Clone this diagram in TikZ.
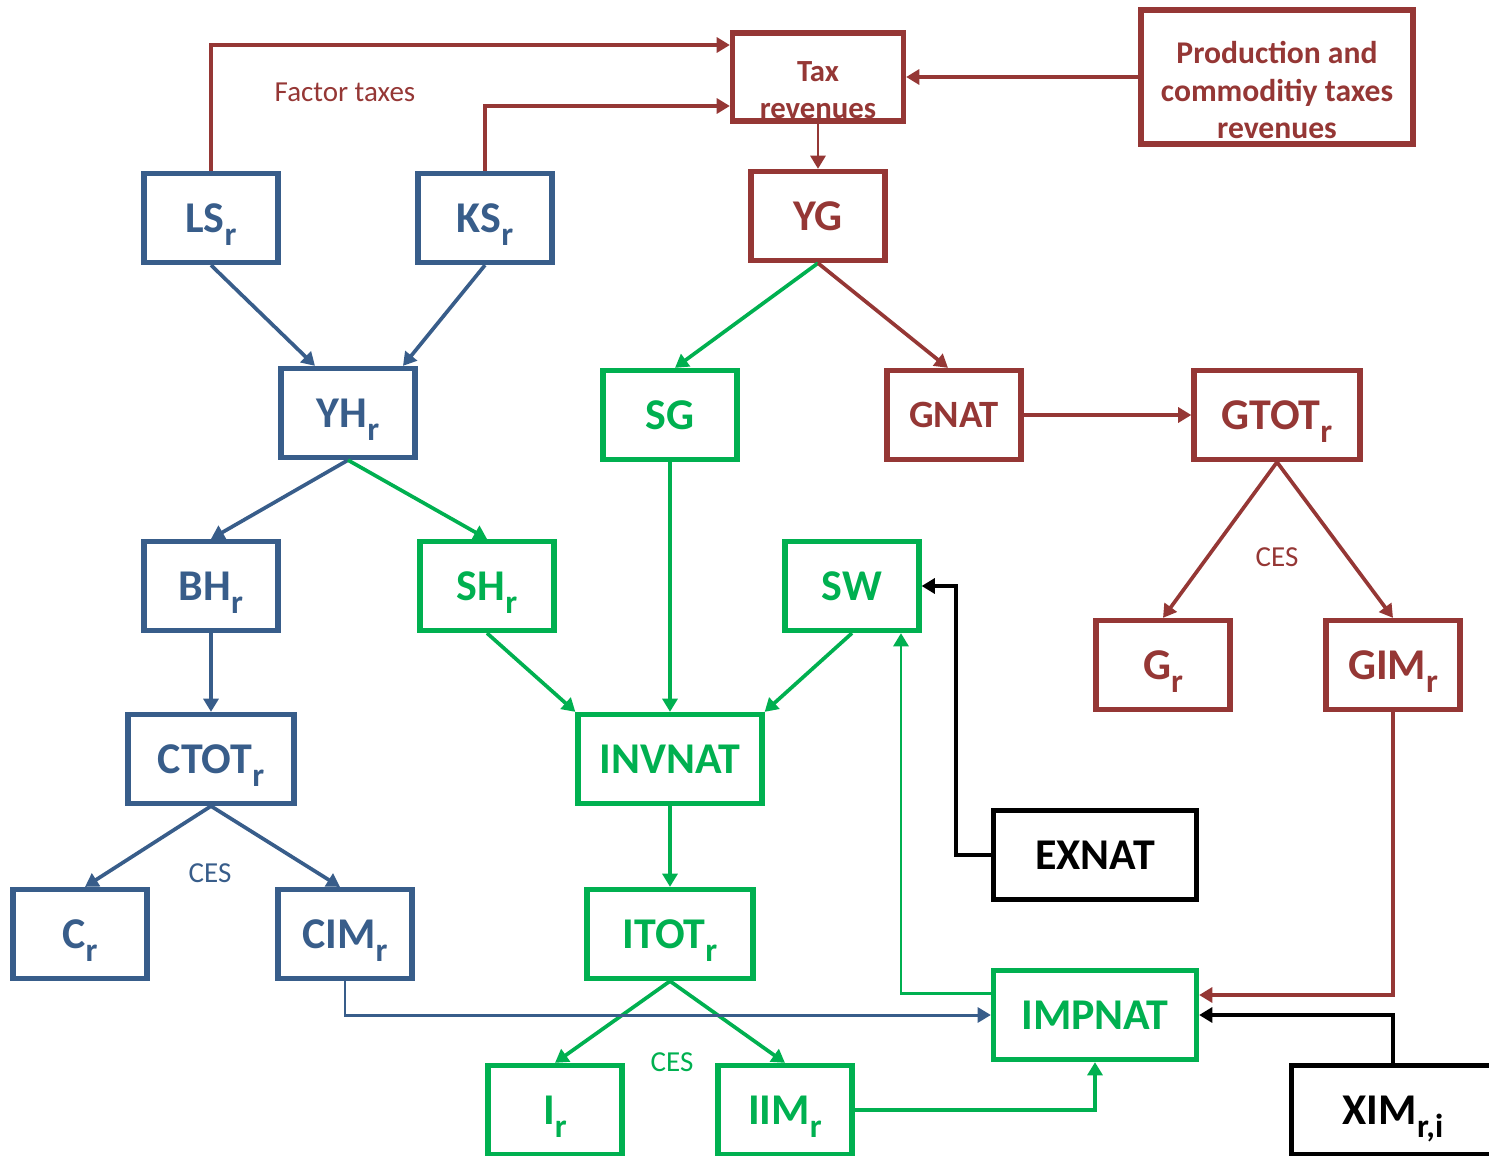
\documentclass[tikz,border=0pt]{standalone}
\usepackage{fontspec}
\setmainfont{Carlito}
\usetikzlibrary{arrows.meta}
\definecolor{taxred}{RGB}{149,55,53}
\definecolor{hhblue}{RGB}{56,93,138}
\definecolor{invgreen}{RGB}{0,176,80}
\newcommand{\rsub}[1]{\raisebox{-0.3em}[0pt][0pt]{\fontsize{19}{19}\selectfont #1}}
\tikzset{
  box/.style={draw, line width=3pt, minimum width=2.68cm, minimum height=1.78cm,
    inner sep=0pt, font=\fontsize{25}{30}\selectfont\bfseries},
  redbox/.style={box, draw=taxred, text=taxred},
  bluebox/.style={box, draw=hhblue, text=hhblue},
  greenbox/.style={box, draw=invgreen, text=invgreen},
  blackbox/.style={box, draw=black, text=black},
  link/.style={line width=2.1pt, -{Triangle[length=7.5pt,width=8.5pt]}},
  thin/.style={line width=1.7pt},
  redlink/.style={link, draw=taxred},
  bluelink/.style={link, draw=hhblue},
  greenlink/.style={link, draw=invgreen},
  blacklink/.style={link, draw=black},
  note/.style={font=\fontsize{16.5}{19}\selectfont}
}
\begin{document}
\begin{tikzpicture}[x=0.02cm, y=-0.02cm]
  \useasboundingbox (0,0) rectangle (1489,1156);

  \node[redbox, minimum width=3.42cm, minimum height=1.76cm] (tax) at (818,77) {};
  \node[text=taxred, align=center, font=\fontsize{17.5}{21}\selectfont\bfseries] (taxtext) at (818,90) {Tax\\revenues};
  \node[redbox, minimum width=5.44cm, minimum height=2.68cm] (prod) at (1277,77) {};
  \node[text=taxred, align=center, font=\fontsize{18}{21.5}\selectfont\bfseries] (prodtext) at (1277,90) {Production and\\commoditiy taxes\\revenues};

  \node[bluebox] (ls) at (211,218) {LS\rsub{r}};
  \node[bluebox] (ks) at (485,218) {KS\rsub{r}};
  \node[redbox] (yg) at (818,216) {YG};
  \node[bluebox] (yh) at (348,413) {YH\rsub{r}};
  \node[greenbox] (sg) at (670,415) {SG};
  \node[redbox, font=\fontsize{22}{26}\selectfont\bfseries] (gnat) at (954,415) {GNAT};
  \node[redbox, minimum width=3.32cm] (gtot) at (1277,415) {GTOT\rsub{r}};
  \node[bluebox] (bh) at (211,586) {BH\rsub{r}};
  \node[greenbox] (sh) at (487,586) {SH\rsub{r}};
  \node[greenbox] (sw) at (852,586) {SW};
  \node[redbox] (gr) at (1163,665) {G\rsub{r}};
  \node[redbox] (gim) at (1393,665) {GIM\rsub{r}};
  \node[bluebox, minimum width=3.32cm] (ctot) at (211,759) {CTOT\rsub{r}};
  \node[greenbox, minimum width=3.68cm] (invnat) at (670,759) {INVNAT};
  \node[blackbox, minimum width=4.06cm] (exnat) at (1095,855) {EXNAT};
  \node[bluebox] (cr) at (80,934) {C\rsub{r}};
  \node[bluebox] (cim) at (345,934) {CIM\rsub{r}};
  \node[greenbox, minimum width=3.32cm] (itot) at (670,934) {ITOT\rsub{r}};
  \node[greenbox, minimum width=4.06cm] (impnat) at (1095,1015) {IMPNAT};
  \node[greenbox] (ir) at (555,1110) {I\rsub{r}};
  \node[greenbox] (iim) at (785,1110) {IIM\rsub{r}};
  \node[blackbox, minimum width=4.06cm] (xim) at (1393,1110) {XIM\rsub{r,i}};

  \node[note, text=taxred] (factor) at (345,92) {Factor taxes};
  \node[note, text=taxred] (cesg) at (1277,557) {CES};
  \node[note, text=hhblue] (cesc) at (210,873) {CES};
  \node[note, text=invgreen] (cesi) at (672,1062) {CES};

  \draw[redlink] (ls.north) |- ([yshift=0.64cm]tax.west);
  \draw[redlink] (ks.north) |- ([yshift=-0.58cm]tax.west);
  \draw[redlink] (prod.west) -- (tax.east);
  \draw[redlink, thin] (tax.south) -- (yg.north);
  \draw[bluelink] (ls.south) -- ([xshift=-0.66cm]yh.north);
  \draw[bluelink] (ks.south) -- ([xshift=1.1cm]yh.north);
  \draw[greenlink] (yg.south) -- ([xshift=0.1cm]sg.north);
  \draw[redlink] (yg.south) -- ([xshift=-0.12cm]gnat.north);
  \draw[redlink] (gnat.east) -- (gtot.west);
  \draw[redlink] (gtot.south) -- (gr.north);
  \draw[redlink] (gtot.south) -- (gim.north);
  \draw[bluelink] (yh.south) -- (bh.north);
  \draw[greenlink] (yh.south) -- (sh.north);
  \draw[bluelink] (bh.south) -- (ctot.north);
  \draw[greenlink] (sh.south) -- (invnat.north west);
  \draw[greenlink] (sg.south) -- (invnat.north);
  \draw[greenlink] (sw.south) -- (invnat.north east);
  \draw[blacklink] (exnat.west) -- ++(-35,0) |- (sw.east);
  \draw[greenlink, thin] ([yshift=0.44cm]impnat.west) -| ([xshift=0.98cm]sw.south);
  \draw[bluelink] (ctot.south) -- ([xshift=0.1cm]cr.north);
  \draw[bluelink] (ctot.south) -- ([xshift=-0.1cm]cim.north);
  \draw[greenlink] (invnat.south) -- (itot.north);
  \draw[greenlink] (itot.south) -- (ir.north);
  \draw[greenlink] (itot.south) -- (iim.north);
  \draw[bluelink, thin] (cim.south) |- (impnat.west);
  \draw[greenlink] (iim.east) -| (impnat.south);
  \draw[redlink] (gim.south) |- ([yshift=0.4cm]impnat.east);
  \draw[blacklink] (xim.north) |- (impnat.east);
\end{tikzpicture}
\end{document}
